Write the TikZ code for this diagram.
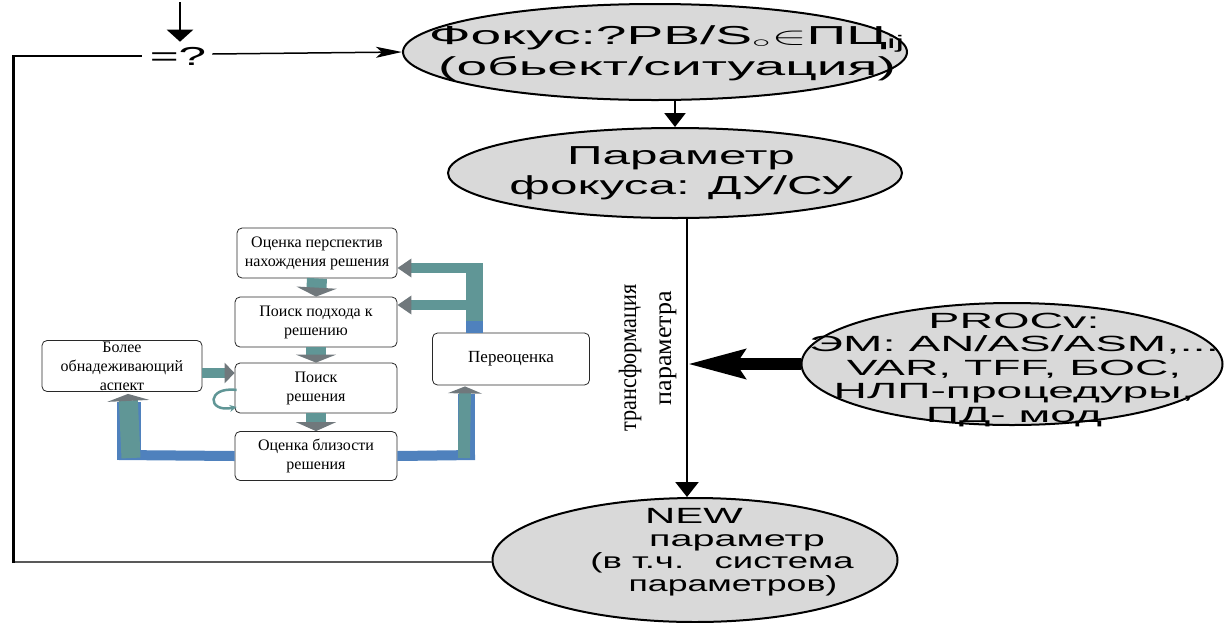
\documentclass[tikz,border=0pt]{standalone}
\usepackage{fontspec}
\setmainfont{Liberation Sans}
\newfontfamily\serifcyr{Liberation Serif}
\usepackage{graphicx}
\usetikzlibrary{shapes.geometric,arrows.meta,calc}

\definecolor{ellfill}{RGB}{217,217,217}
\definecolor{bandteal}{RGB}{96,150,150}
\definecolor{bandblue}{RGB}{79,129,189}
\definecolor{tipgray}{RGB}{112,120,124}
\definecolor{boxline}{RGB}{40,40,40}

% wide sans lettering used inside the ovals
\newcommand{\sx}[2][1.9]{\scalebox{#1}[1]{#2}}

\begin{document}
\begin{tikzpicture}[x=1pt,y=-1pt,
  oval/.style={ellipse, draw=black, line width=2pt, fill=ellfill, inner sep=0pt},
  ovaltext/.style={align=center, inner sep=0pt},
  stepbox/.style={draw=boxline, line width=0.8pt, rounded corners=5pt, fill=white,
    align=center, inner sep=0pt, font=\serifcyr\fontsize{16}{19}\selectfont},
  flow/.style={draw=black, line width=1.6pt},
  vtext/.style={rotate=90, inner sep=0pt, font=\serifcyr\fontsize{25}{25}\selectfont},
  grayhead/.style={-{Triangle[length=#1,width=40pt,color=tipgray]}},
]
\useasboundingbox (0,0) rectangle (1231,622);

% ---------- main ovals ----------
\node[oval, minimum width=504pt, minimum height=96pt] (E1) at (655,52) {};
\node[ovaltext, font=\fontsize{26}{31}\selectfont] (E1t) at (667,53)
  {\sx[2.12]{Фокус:?PB/S$_\circ{\in}$ПЦ\textsubscript{ij}}\\\sx[2.12]{(обьект/ситуация)}};

\node[oval, minimum width=454pt, minimum height=90pt] (E2) at (675,173) {};
\node[ovaltext, font=\fontsize{26}{30}\selectfont] (E2t) at (681,173)
  {\sx{Параметр}\\\sx{фокуса: ДУ/СУ}};

\node[oval, minimum width=421pt, minimum height=122pt] (E3) at (1012,364) {};
\node[ovaltext, font=\fontsize{22}{23.5}\selectfont] (E3t) at (1014,370)
  {\sx[2.12]{PROCv:}\\\sx[2.15]{ЭМ: AN/AS/ASM,...}\\\sx[2.1]{VAR, TFF, БОС,}\\\sx[2.1]{НЛП-процедуры,}\\\sx[2.1]{ПД- мод}};

\node[oval, minimum width=405pt, minimum height=124pt] (E4) at (695,560) {};
\node[ovaltext, font=\fontsize{22}{22.5}\selectfont] (E4t) at (722,552)
  {\sx{NEW}\hspace*{56pt}\\\hspace*{30pt}\sx[1.8]{параметр}\\\sx[1.66]{(в т.ч.\ \ \ система}\\\hspace*{22pt}\sx[1.62]{параметров)}};

% ---------- comparison point ----------
\node[inner sep=0pt, font=\fontsize{26}{30}\selectfont] (q) at (178,56) {\sx{=?}};
\coordinate (top) at (180,2);
\draw[flow, line width=2.5pt, -{Triangle[length=12pt,width=26pt]}] (top) -- ($(q.north)+(2,-5)$);
\draw[flow, line width=1.5pt, -{Stealth[length=26pt,width=11pt,inset=6pt]}] ($(q.east)+(6,-2)$) -- (E1.west);

% ---------- main chain ----------
\coordinate (vx) at (687,0);
\draw[flow, line width=2.5pt, -{Triangle[length=14pt,width=21pt]}] ($(E1.south)+(20,0)$) -- (E2.north);
\draw[flow, line width=2.5pt, -{Triangle[length=15pt,width=23pt]}] (E2.south -| vx) -- (E4.north -| vx);
\draw[draw=black, line width=12pt, -{Stealth[length=57pt,width=28pt,inset=8pt]}] (E3.west) -- (E3.west -| vx);

% feedback from the new parameter back to the comparison
\coordinate (lb) at (13,562);
\coordinate (lt) at (13,56);
\draw[draw=black!65, line width=2pt] (E4.west |- lb) -- (lb);
\draw[draw=black, line width=3pt] ($(lb)+(0,1)$) -- ($(lt)+(0,-1)$);
\draw[draw=black, line width=1.5pt] (lt) -- ($(q.west)+(-8,0)$);

% rotated caption along the vertical connector
\node[vtext] (tr1) at (630,358) {\scalebox{0.89}[1]{трансформация}};
\node[vtext] (tr2) at (668,348) {\scalebox{1.04}[1]{параметра}};

% ---------- inner search loop ----------
\node[stepbox, minimum width=160pt, minimum height=50pt] (A) at (317,253)
  {Оценка перспектив\\нахождения решения};
\node[stepbox, minimum width=162pt, minimum height=50pt] (B) at (316,322)
  {Поиск подхода к\\решению};
\node[stepbox, minimum width=162pt, minimum height=50pt] (C) at (316,388)
  {Поиск\\решения};
\node[stepbox, minimum width=162pt, minimum height=49pt] (D) at (316,456)
  {Оценка близости\\решения};
\node[stepbox, minimum width=160pt, minimum height=51pt] (E) at (122,366)
  {Более\\обнадеживающий\\аспект};
\node[stepbox, minimum width=157pt, minimum height=52pt, font=\serifcyr\fontsize{17}{19}\selectfont] (F) at (511,359)
  {Переоценка};

% short steps down the column
\draw[bandteal, line width=20pt, grayhead=9pt] (A.south) -- (B.north);
\draw[bandteal, line width=20pt, grayhead=8pt] (B.south) -- (C.north);
\draw[bandteal, line width=20pt, grayhead=9pt] (C.south) -- (D.north);
\draw[bandteal, line width=10pt, -{Triangle[length=10pt,width=20pt,color=tipgray]}]
  ($(E.east)+(0,7)$) -- ($(E.east -| C.west)+(0,7)$);

% retry loop on the search box
\draw[bandteal, line width=2.5pt, -{Stealth[length=7pt,width=7pt]}]
  ($(C.west)+(2,2)$) .. controls +(-30,-4) and +(-30,6) .. ($(C.west)+(2,19)$);

% closeness -> more promising aspect
\coordinate (lk) at (130,455);
\draw[bandblue, line width=10pt] (D.west) -- ($(lk)+(-11,0)$);
\draw[bandblue, line width=24pt] ($(lk)+(-1,5)$) -- ($(lk |- E.south)+(-1,10)$);
\draw[bandteal, line width=19pt, -{Triangle[length=7pt,width=42pt,color=tipgray]}]
  ($(lk)+(1,3)$) -- ($(lk |- E.south)+(-2,2)$);

% closeness -> re-evaluation
\coordinate (rk) at (466,455);
\draw[bandblue, line width=10pt] (D.east) -- ($(rk)+(9,0)$);
\draw[bandblue, line width=17pt] ($(rk)+(0,5)$) -- ($(rk |- F.south)+(0,9)$);
\draw[bandteal, line width=12pt, -{Triangle[length=7pt,width=34pt,color=tipgray]}]
  ($(rk)+(-2,3)$) -- ($(rk |- F.south)+(-1,1)$);

% re-evaluation -> back to the upper boxes
\coordinate (fk) at (474,268);
\coordinate (fb) at (474,305);
\draw[bandblue, line width=17pt] (F.north -| fk) -- ++(0,-14);
\draw[bandteal, line width=17pt] ($(F.north -| fk)+(0,-12)$) -- ($(fk)+(0,-5)$);
\draw[bandteal, line width=10pt, -{Triangle[length=14pt,width=18pt,color=tipgray]}]
  ($(fk)+(8.5,0)$) -- (fk -| A.east);
\draw[bandteal, line width=10pt, -{Triangle[length=14pt,width=18pt,color=tipgray]}]
  (fb) -- (fb -| B.east);
\end{tikzpicture}
\end{document}
